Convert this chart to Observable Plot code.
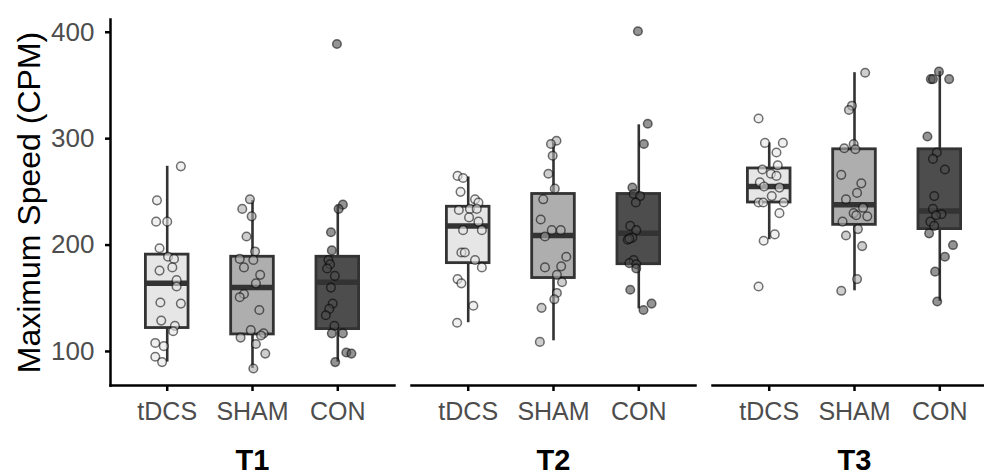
<!DOCTYPE html>
<html>
<head>
<meta charset="utf-8">
<script src="https://cdn.jsdelivr.net/npm/d3@7"></script>
<script src="https://cdn.jsdelivr.net/npm/@observablehq/plot@0.6"></script>
<style>
  html, body { margin: 0; padding: 0; background: #fff; overflow: hidden; }
  #chart { width: 984px; height: 475px; overflow: hidden; }
  #chart svg { max-width: none !important; }
</style>
</head>
<body>
<div id="chart"></div>
<script>
// ---- data ----
const times = ["T1", "T2", "T3"];
const groups = ["tDCS", "SHAM", "CON"];
const yTicks = [100, 200, 300, 400];
const yTitle = "Maximum Speed (CPM)";

// box statistics, order: T1 tDCS, T1 SHAM, T1 CON, T2 ..., T3 ...
const q1 =          [122, 116, 121, 183, 169, 182, 240, 219, 215];
const median =      [164, 160, 165, 218, 209, 211, 255, 238, 232];
const q3 =          [191, 189, 189, 236, 248, 248, 272, 290, 290];
const whiskerLow =  [ 90,  84,  90, 127, 110, 140, 205, 157, 147];
const whiskerHigh = [274, 242, 237, 264, 296, 313, 296, 362, 363];

// individual observations (value) and their horizontal jitter (category units)
const t1Tdcs    = [274, 242, 222, 222, 197, 189, 187, 179, 176, 167, 161, 146, 145, 129, 124, 119, 108, 105, 95, 90];
const t1TdcsJit = [0.16, -0.12, -0.13, 0.00, -0.09, 0.01, 0.08, 0.06, -0.09, 0.11, 0.11, -0.08, 0.16, -0.07, 0.09, 0.07, -0.14, -0.04, -0.14, -0.06];
const t1Sham    = [243, 234, 227, 208, 194, 187, 186, 179, 172, 164, 154, 151, 139, 120, 117, 115, 113, 107, 98, 84];
const t1ShamJit = [-0.03, -0.12, -0.01, -0.07, 0.03, -0.15, 0.01, -0.10, 0.09, 0.04, -0.10, -0.15, 0.08, -0.02, 0.13, 0.10, -0.14, 0.04, 0.15, 0.01];
const t1Con     = [389, 238, 234, 212, 195, 186, 182, 178, 171, 160, 145, 140, 134, 124, 117, 117, 99, 98, 90];
const t1ConJit  = [-0.01, 0.06, 0.01, -0.08, -0.07, -0.11, -0.09, -0.125, -0.035, -0.08, -0.06, -0.10, -0.14, -0.04, -0.07, 0.06, 0.10, 0.16, -0.03];

const t2Tdcs    = [265, 263, 250, 243, 240, 233, 234, 234, 226, 222, 214, 214, 193, 193, 186, 179, 168, 164, 143, 127];
const t2TdcsJit = [-0.125, -0.06, -0.09, 0.08, 0.12, -0.11, 0.02, 0.10, 0.01, 0.12, -0.06, 0.16, -0.08, -0.04, 0.08, 0.16, -0.125, -0.08, 0.06, -0.13];
const t2Sham    = [298, 295, 284, 267, 253, 243, 224, 214, 214, 208, 189, 179, 180, 172, 165, 155, 149, 141, 109];
const t2ShamJit = [0.035, -0.03, -0.01, -0.06, 0.015, -0.12, -0.15, -0.02, 0.085, -0.10, 0.15, -0.10, 0.09, 0.04, 0.10, 0.04, 0.01, -0.14, -0.16];
const t2Con     = [401, 314, 295, 254, 248, 246, 240, 218, 214, 207, 205, 206, 186, 183, 182, 178, 158, 145, 139];
const t2ConJit  = [-0.01, 0.105, 0.06, -0.075, -0.06, 0.015, -0.035, -0.10, -0.03, -0.075, -0.13, -0.11, -0.06, -0.11, -0.03, -0.03, -0.10, 0.15, 0.055];

const t3Tdcs    = [319, 296, 296, 287, 275, 271, 267, 265, 259, 255, 254, 246, 240, 240, 240, 230, 210, 204, 161];
const t3TdcsJit = [-0.125, -0.05, 0.16, 0.085, 0.10, -0.08, 0.02, 0.085, -0.11, -0.06, 0.12, 0.03, -0.125, -0.07, 0.17, 0.12, 0.065, -0.065, -0.125];
const t3Sham    = [362, 331, 327, 295, 291, 290, 266, 258, 249, 243, 235, 230, 228, 227, 222, 215, 209, 199, 168, 157];
const t3ShamJit = [0.125, -0.03, -0.065, -0.01, -0.12, 0.01, -0.155, 0.08, 0.03, -0.10, 0.10, -0.01, 0.02, 0.15, -0.14, 0.04, -0.10, 0.09, 0.03, -0.155];
const t3Con     = [363, 356, 356, 356, 302, 287, 281, 271, 246, 234, 229, 228, 222, 218, 211, 200, 189, 175, 147];
const t3ConJit  = [-0.01, -0.105, -0.08, 0.11, -0.145, -0.035, -0.08, 0.06, -0.065, -0.08, 0.02, -0.045, -0.11, -0.065, -0.125, 0.155, 0.06, -0.055, -0.03];

// ---- styles ----
const fills = ["#e6e6e6", "#aeaeae", "#4d4d4d"];
const ink = "#333333";

// ---- tables built from the arrays ----
const boxes = [];
times.forEach((t, ti) => groups.forEach((g, gi) => {
  const k = ti * groups.length + gi;
  boxes.push({time: t, group: g, i: gi, q1: q1[k], median: median[k], q3: q3[k], lo: whiskerLow[k], hi: whiskerHigh[k]});
}));

const pointSets = [
  [t1Tdcs, t1TdcsJit], [t1Sham, t1ShamJit], [t1Con, t1ConJit],
  [t2Tdcs, t2TdcsJit], [t2Sham, t2ShamJit], [t2Con, t2ConJit],
  [t3Tdcs, t3TdcsJit], [t3Sham, t3ShamJit], [t3Con, t3ConJit]
];
const points = [];
pointSets.forEach(([vals, jit], k) => {
  const ti = Math.floor(k / groups.length), gi = k % groups.length;
  vals.forEach((v, j) => points.push({time: times[ti], group: groups[gi], i: gi, jit: jit[j], value: v}));
});

const half = 0.25; // half box width in category units

const chart = Plot.plot({
  width: 996,
  height: 475,
  marginLeft: 110,
  marginRight: 0,
  marginTop: 19,
  marginBottom: 90,
  style: {fontFamily: "'Liberation Sans', Arial, Helvetica, sans-serif", background: "#fff", maxWidth: "none"},
  fx: {domain: times, paddingInner: 0.0565, paddingOuter: 0, label: null},
  x: {domain: [-0.665, 2.665]},
  y: {domain: [68, 412]},
  color: {domain: groups, range: fills},
  marks: [
    Plot.ruleX(boxes, {fx: "time", x: "i", y1: "lo", y2: "hi", stroke: ink, strokeWidth: 2.6}),
    Plot.rect(boxes, {fx: "time", x1: d => d.i - half, x2: d => d.i + half, y1: "q1", y2: "q3", fill: "group", stroke: ink, strokeWidth: 2.8}),
    Plot.ruleY(boxes, {fx: "time", y: "median", x1: d => d.i - half, x2: d => d.i + half, stroke: ink, strokeWidth: 5.5}),
    Plot.dot(points, {fx: "time", x: d => d.i + d.jit, y: "value", r: 4.3, fill: "group", fillOpacity: 0.6, stroke: "#000", strokeOpacity: 0.55, strokeWidth: 1.5}),
    Plot.frame({anchor: "bottom", stroke: "#000", strokeWidth: 2.5}),
    Plot.frame({anchor: "left", facetAnchor: "left", stroke: "#000", strokeWidth: 2.5}),
    Plot.axisY({ticks: yTicks, tickSize: 5, tickPadding: 11, fontSize: 26, stroke: "#000", strokeWidth: 2.5, fill: "#4d4d4d", label: null}),
    Plot.axisY({ticks: [], tickSize: 0, label: yTitle, labelAnchor: "center", labelArrow: "none", labelOffset: 93, fontSize: 32, fill: "#000"}),
    Plot.axisX({ticks: [0, 1, 2], tickFormat: i => groups[i], tickSize: 6, tickPadding: 11, fontSize: 25, stroke: "#000", strokeWidth: 2.5, fill: "#4d4d4d", label: null}),
    Plot.axisFx({anchor: "bottom", tickSize: 0, tickPadding: 64, fontSize: 29, fontWeight: "bold", fill: "#000", label: null})
  ]
});
document.getElementById("chart").appendChild(chart);
</script>
</body>
</html>
